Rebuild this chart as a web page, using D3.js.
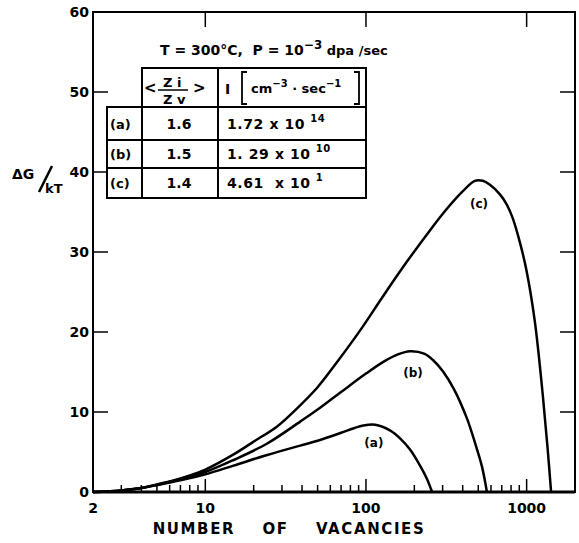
<!DOCTYPE html>
<html>
<head>
<meta charset="utf-8">
<script src="https://cdn.jsdelivr.net/npm/d3@7"></script>
<style>
  body { margin: 0; background: #fff; }
  text { font-family: "DejaVu Sans", sans-serif; font-weight: bold; fill: #000; }
</style>
</head>
<body>
<div id="chart-container"></div>
<script>
// data: [number of vacancies, dG/kT]
const curveA = [[2, 0], [3, 0.2], [4, 0.5], [5, 0.85], [7, 1.45], [10, 2.2], [15, 3.3], [24, 4.6], [39, 5.8], [50, 6.4], [70, 7.4], [85, 8.0], [96, 8.3], [114, 8.4], [141, 7.7], [163, 6.7], [188, 5.3], [217, 3.3], [239, 1.7], [258, 0]];
const curveB = [[2, 0], [3, 0.2], [4, 0.5], [5, 0.9], [7, 1.6], [10, 2.5], [15, 4.0], [24, 6.0], [39, 8.8], [50, 10.3], [70, 12.5], [100, 14.8], [129, 16.3], [158, 17.2], [188, 17.6], [230, 17.3], [261, 16.5], [301, 15.1], [352, 12.9], [425, 9.2], [483, 5.8], [527, 3.2], [566, 0]];
const curveC = [[2, 0], [3, 0.2], [4, 0.5], [5, 0.95], [7, 1.7], [10, 2.8], [15, 4.7], [20, 6.3], [28, 8.2], [37, 10.4], [50, 13.1], [67, 16.4], [92, 20.2], [129, 24.6], [180, 28.8], [250, 32.7], [319, 35.4], [401, 37.6], [476, 38.9], [534, 38.9], [591, 38.4], [682, 37.2], [754, 35.9], [820, 34.2], [908, 31.2], [1000, 27.6], [1125, 21.3], [1262, 12.0], [1350, 5.5], [1420, 0]];
const curveNames = ["(a)", "(b)", "(c)"];
const labelPos = [[112, 6.2], [196, 14.9], [505, 36]];

const xTickLabels = [2, 10, 100, 1000];
const yTicks = [0, 10, 20, 30, 40, 50, 60];

// table contents
const ratioValues = ["1.6", "1.5", "1.4"];
const rateMantissa = ["1.72 x 10", "1. 29 x 10", "4.61  x 10"];
const rateExponent = ["14", "10", "1"];

const width = 579;
const height = 543;
const plotLeft = 93, plotRight = 575, plotTop = 12, plotBottom = 492;

const x = d3.scaleLog().domain([2, 2000]).range([plotLeft, plotRight]);
const y = d3.scaleLinear().domain([0, 60]).range([plotBottom, plotTop]);

const svg = d3
  .select("#chart-container")
  .append("svg")
  .attr("width", width)
  .attr("height", height);

// frame
svg
  .append("rect")
  .attr("x", plotLeft)
  .attr("y", plotTop)
  .attr("width", plotRight - plotLeft)
  .attr("height", plotBottom - plotTop)
  .attr("fill", "none")
  .attr("stroke", "#000")
  .attr("stroke-width", 2);
svg
  .append("line")
  .attr("x1", plotLeft).attr("x2", plotRight)
  .attr("y1", plotBottom).attr("y2", plotBottom)
  .attr("stroke", "#000")
  .attr("stroke-width", 3);

// x ticks along the bottom (pointing up) and decades on top
const isDecade = (d) => Math.abs(Math.log10(d) - Math.round(Math.log10(d))) < 1e-9;
svg
  .append("g")
  .selectAll("line")
  .data(x.ticks().filter((d) => d > 2 && d < 2000))
  .join("line")
  .attr("x1", x).attr("x2", x)
  .attr("y1", plotBottom)
  .attr("y2", (d) => plotBottom - (isDecade(d) ? 13 : 7))
  .attr("stroke", "#000")
  .attr("stroke-width", 1.5);
svg
  .append("g")
  .selectAll("line")
  .data([10, 100, 1000])
  .join("line")
  .attr("x1", x).attr("x2", x)
  .attr("y1", plotTop)
  .attr("y2", plotTop + 15)
  .attr("stroke", "#000")
  .attr("stroke-width", 1.5);

svg
  .append("g")
  .attr("text-anchor", "middle")
  .attr("font-size", 14)
  .selectAll("text")
  .data(xTickLabels)
  .join("text")
  .attr("x", x)
  .attr("y", 513)
  .text((d) => d);

// y ticks on both sides
const yInner = yTicks.filter((d) => d > 0 && d < 60);
svg
  .append("g")
  .selectAll("line")
  .data(yInner)
  .join("line")
  .attr("x1", plotLeft).attr("x2", plotLeft + 15)
  .attr("y1", y).attr("y2", y)
  .attr("stroke", "#000")
  .attr("stroke-width", 1.5);
svg
  .append("g")
  .selectAll("line")
  .data(yInner)
  .join("line")
  .attr("x1", plotRight).attr("x2", plotRight - 15)
  .attr("y1", y).attr("y2", y)
  .attr("stroke", "#000")
  .attr("stroke-width", 1.5);
svg
  .append("g")
  .attr("text-anchor", "end")
  .attr("font-size", 14)
  .selectAll("text")
  .data(yTicks)
  .join("text")
  .attr("x", plotLeft - 4)
  .attr("y", y)
  .attr("dy", "0.36em")
  .text((d) => d);

// axis titles
svg
  .append("text")
  .attr("x", 289)
  .attr("y", 534)
  .attr("text-anchor", "middle")
  .attr("font-size", 15)
  .attr("letter-spacing", 1.6)
  .attr("xml:space", "preserve")
  .text("NUMBER    OF    VACANCIES");

const yLabel = svg.append("g");
yLabel.append("text").attr("x", 12).attr("y", 179).attr("font-size", 14).text("\u0394G");
yLabel
  .append("line")
  .attr("x1", 39).attr("y1", 192)
  .attr("x2", 52).attr("y2", 166)
  .attr("stroke", "#000")
  .attr("stroke-width", 2.5);
yLabel.append("text").attr("x", 45).attr("y", 193).attr("font-size", 13).text("kT");

// curves
const line = d3
  .line()
  .curve(d3.curveCatmullRom.alpha(0.5))
  .x((d) => x(d[0]))
  .y((d) => y(d[1]));

svg
  .append("g")
  .selectAll("path")
  .data([curveA, curveB, curveC])
  .join("path")
  .attr("fill", "none")
  .attr("stroke", "#000")
  .attr("stroke-width", 2.5)
  .attr("stroke-linejoin", "round")
  .attr("d", line);

svg
  .append("g")
  .attr("text-anchor", "middle")
  .attr("font-size", 12)
  .selectAll("text")
  .data(curveNames)
  .join("text")
  .attr("x", (d, i) => x(labelPos[i][0]))
  .attr("y", (d, i) => y(labelPos[i][1]))
  .attr("dy", "0.35em")
  .text((d) => d);

// condition line
const cond = svg.append("text").attr("x", 160).attr("y", 55).attr("font-size", 14).attr("xml:space", "preserve");
cond.append("tspan").text("T = 300\u00B0C,  P = 10");
cond.append("tspan").attr("dy", -6).attr("font-size", 12).text("\u22123");
cond.append("tspan").attr("dy", 6).attr("font-size", 13).text(" dpa /sec");

// table
const colX = [107, 142, 218, 366];
const rowY = [68, 107, 140, 168, 198];
const table = svg.append("g").attr("stroke", "#000").attr("stroke-width", 2);
table.append("rect").attr("x", colX[1]).attr("y", rowY[0]).attr("width", colX[3] - colX[1]).attr("height", rowY[4] - rowY[0]).attr("fill", "none");
table.append("rect").attr("x", colX[0]).attr("y", rowY[1]).attr("width", colX[3] - colX[0]).attr("height", rowY[4] - rowY[1]).attr("fill", "none");
table
  .selectAll(".hline")
  .data(rowY.slice(2, 4))
  .join("line")
  .attr("x1", colX[0]).attr("x2", colX[3])
  .attr("y1", (d) => d).attr("y2", (d) => d);
table.append("line").attr("x1", colX[2]).attr("x2", colX[2]).attr("y1", rowY[0]).attr("y2", rowY[4]);

const rows = svg
  .append("g")
  .selectAll("g")
  .data(curveNames)
  .join("g")
  .attr("transform", (d, i) => `translate(0,${(rowY[i + 1] + rowY[i + 2]) / 2 + 5})`);
rows.append("text").attr("x", 110).attr("font-size", 13).text((d) => d);
rows.append("text").attr("x", 179).attr("text-anchor", "middle").attr("font-size", 14).text((d, i) => ratioValues[i]);
const rateText = rows.append("text").attr("x", 227).attr("font-size", 14).attr("letter-spacing", 0.6).attr("xml:space", "preserve");
rateText.append("tspan").text((d, i) => rateMantissa[i]);
rateText.append("tspan").attr("dx", 5).attr("dy", -7).attr("font-size", 10).text((d, i) => rateExponent[i]);

// header: <Zi/Zv>
const head = svg.append("g");
head.append("text").attr("x", 144).attr("y", 93).attr("font-size", 15).text("<");
head.append("text").attr("x", 163).attr("y", 87).attr("font-size", 13).attr("xml:space", "preserve").text("Z i");
head.append("line").attr("x1", 158).attr("x2", 188).attr("y1", 90).attr("y2", 90).attr("stroke", "#000").attr("stroke-width", 1.5);
head.append("text").attr("x", 163).attr("y", 104).attr("font-size", 13).attr("xml:space", "preserve").text("Z v");
head.append("text").attr("x", 193).attr("y", 93).attr("font-size", 15).text(">");

// header: I [cm-3 . sec-1]
head.append("text").attr("x", 225).attr("y", 94).attr("font-size", 14).attr("font-family", "DejaVu Serif").text("I");
head
  .append("path")
  .attr("d", "M247,72 L242,72 L242,104 L247,104 M354,72 L359,72 L359,104 L354,104")
  .attr("fill", "none")
  .attr("stroke", "#000")
  .attr("stroke-width", 1.8);
const unit = head.append("text").attr("x", 251).attr("y", 93).attr("font-size", 13).attr("xml:space", "preserve");
unit.append("tspan").text("cm");
unit.append("tspan").attr("dy", -6).attr("font-size", 10).text("\u22123");
unit.append("tspan").attr("dy", 6).text(" \u00B7 sec");
unit.append("tspan").attr("dy", -6).attr("font-size", 10).text("\u22121");
</script>
</body>
</html>
